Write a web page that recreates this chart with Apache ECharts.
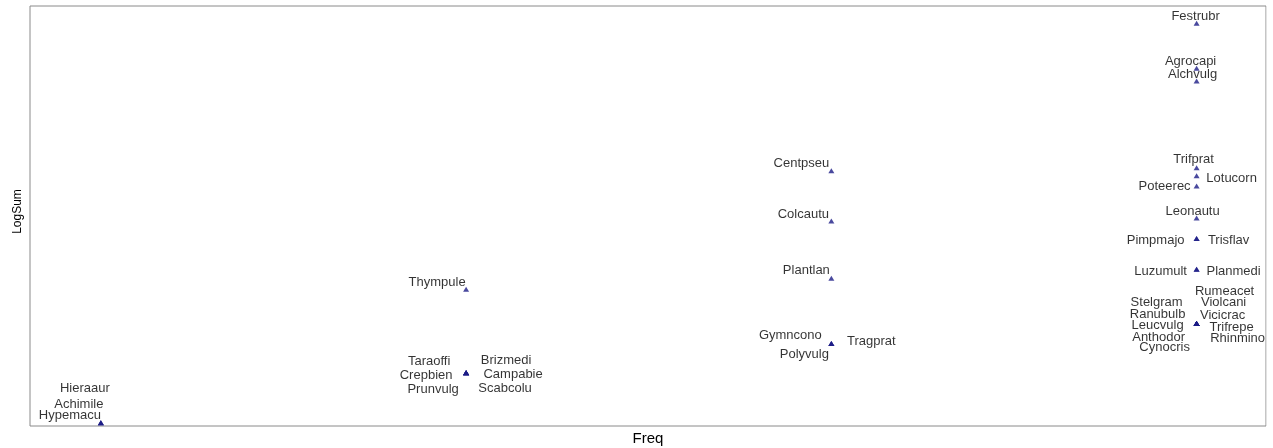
<!DOCTYPE html>
<html>
<head>
<meta charset="utf-8">
<title>LogSum vs Freq</title>
<script src="https://cdn.jsdelivr.net/npm/echarts@6/dist/echarts.min.js"></script>
<style>
  html, body { margin: 0; padding: 0; background: #ffffff; }
  #chart { width: 1273px; height: 448px; }
</style>
</head>
<body>
<div id="chart"></div>
<script>
// Species codes, their frequency and summed log abundance
const species = [
  'Hieraaur', 'Achimile', 'Hypemacu',
  'Thympule',
  'Taraoffi', 'Crepbien', 'Prunvulg', 'Brizmedi', 'Campabie', 'Scabcolu',
  'Centpseu', 'Colcautu', 'Plantlan',
  'Gymncono', 'Tragprat', 'Polyvulg',
  'Festrubr', 'Agrocapi', 'Alchvulg',
  'Trifprat', 'Lotucorn', 'Poteerec',
  'Leonautu', 'Pimpmajo', 'Trisflav', 'Luzumult', 'Planmedi',
  'Rumeacet', 'Violcani', 'Vicicrac', 'Trifrepe', 'Rhinmino',
  'Stelgram', 'Ranubulb', 'Leucvulg', 'Anthodor', 'Cynocris'
];
const freq = [
  1, 1, 1,
  2,
  2, 2, 2, 2, 2, 2,
  3, 3, 3,
  3, 3, 3,
  4, 4, 4,
  4, 4, 4,
  4, 4, 4, 4, 4,
  4, 4, 4, 4, 4,
  4, 4, 4, 4, 4
];
const logSum = [
  0.09, 0.09, 0.09,
  3.91,
  1.52, 1.52, 1.52, 1.52, 1.52, 1.52,
  7.29, 5.86, 4.22,
  2.36, 2.36, 2.36,
  11.51, 10.22, 9.86,
  7.38, 7.15, 6.86,
  5.94, 5.36, 5.36, 4.48, 4.48,
  2.93, 2.93, 2.93, 2.93, 2.93,
  2.93, 2.93, 2.93, 2.93, 2.93
];

// Where each name sits relative to its marker (text centre, in px)
const labelOffset = {
  Hieraaur: [-16, -36], Achimile: [-22, -20], Hypemacu: [-31, -9],
  Thympule: [-29, -9],
  Taraoffi: [-37, -13], Crepbien: [-40, 1], Prunvulg: [-33, 15],
  Brizmedi: [40, -14], Campabie: [47, 0], Scabcolu: [39, 14],
  Centpseu: [-30, -9], Colcautu: [-28, -8], Plantlan: [-25, -10],
  Gymncono: [-41, -10], Tragprat: [40, -4], Polyvulg: [-27, 9],
  Festrubr: [-1, -9], Agrocapi: [-6, -9], Alchvulg: [-4, -8],
  Trifprat: [-3, -10], Lotucorn: [35, 1], Poteerec: [-32, -1],
  Leonautu: [-4, -9], Pimpmajo: [-41, 0], Trisflav: [32, 0],
  Luzumult: [-36, 0], Planmedi: [37, 0],
  Rumeacet: [28, -34], Violcani: [27, -23], Vicicrac: [26, -10],
  Trifrepe: [35, 2], Rhinmino: [41, 13],
  Stelgram: [-40, -23], Ranubulb: [-39, -11], Leucvulg: [-39, 0],
  Anthodor: [-38, 12], Cynocris: [-32, 22]
};

const SYMBOL_W = 6, SYMBOL_H = 5;
const TEXT_SHIFT_Y = 2; // glyph box sits slightly above its middle line

const points = species.map((name, i) => {
  const off = labelOffset[name];
  return {
    name: name,
    value: [freq[i], logSum[i]],
    // label position is measured from the symbol's top-left corner
    label: { position: [SYMBOL_W / 2 + off[0], SYMBOL_H / 2 + off[1] + TEXT_SHIFT_Y] }
  };
});

const chart = echarts.init(document.getElementById('chart'), null, { renderer: 'canvas' });

const FONT = '"Liberation Sans", Arial, Helvetica, sans-serif';

chart.setOption({
  backgroundColor: '#ffffff',
  animation: false,
  grid: {
    left: 30, top: 6, right: 7, bottom: 22,
    outerBoundsMode: 'none',
    containLabel: false,
    show: true,
    borderColor: '#8a8a8a',
    borderWidth: 1,
    backgroundColor: 'transparent'
  },
  xAxis: {
    type: 'value',
    min: 0.806, max: 4.19,
    name: 'Freq',
    nameLocation: 'middle',
    nameGap: 5,
    nameTextStyle: { fontFamily: FONT, fontSize: 15, color: '#000' },
    axisLine: { show: false },
    axisTick: { show: false },
    axisLabel: { show: false },
    splitLine: { show: false }
  },
  yAxis: {
    type: 'value',
    min: 0, max: 12,
    name: 'LogSum',
    nameLocation: 'middle',
    nameGap: 6,
    nameTextStyle: { fontFamily: FONT, fontSize: 12, color: '#000', padding: [0, 0, 0, 9] },
    axisLine: { show: false },
    axisTick: { show: false },
    axisLabel: { show: false },
    splitLine: { show: false }
  },
  series: [{
    type: 'scatter',
    symbol: 'triangle',
    symbolSize: [SYMBOL_W, SYMBOL_H],
    itemStyle: { color: '#1c1c86' },
    label: {
      show: true,
      formatter: '{b}',
      align: 'center',
      verticalAlign: 'middle',
      fontFamily: FONT,
      fontSize: 13,
      color: '#000'
    },
    labelLayout: { hideOverlap: false },
    emphasis: { disabled: true },
    data: points
  }],
  graphic: [{
    // mask text that runs past the right edge of the plot frame
    type: 'rect',
    z: 100,
    shape: { x: 1266.5, y: 0, width: 10, height: 448 },
    style: { fill: '#ffffff' }
  }]
});
</script>
</body>
</html>
